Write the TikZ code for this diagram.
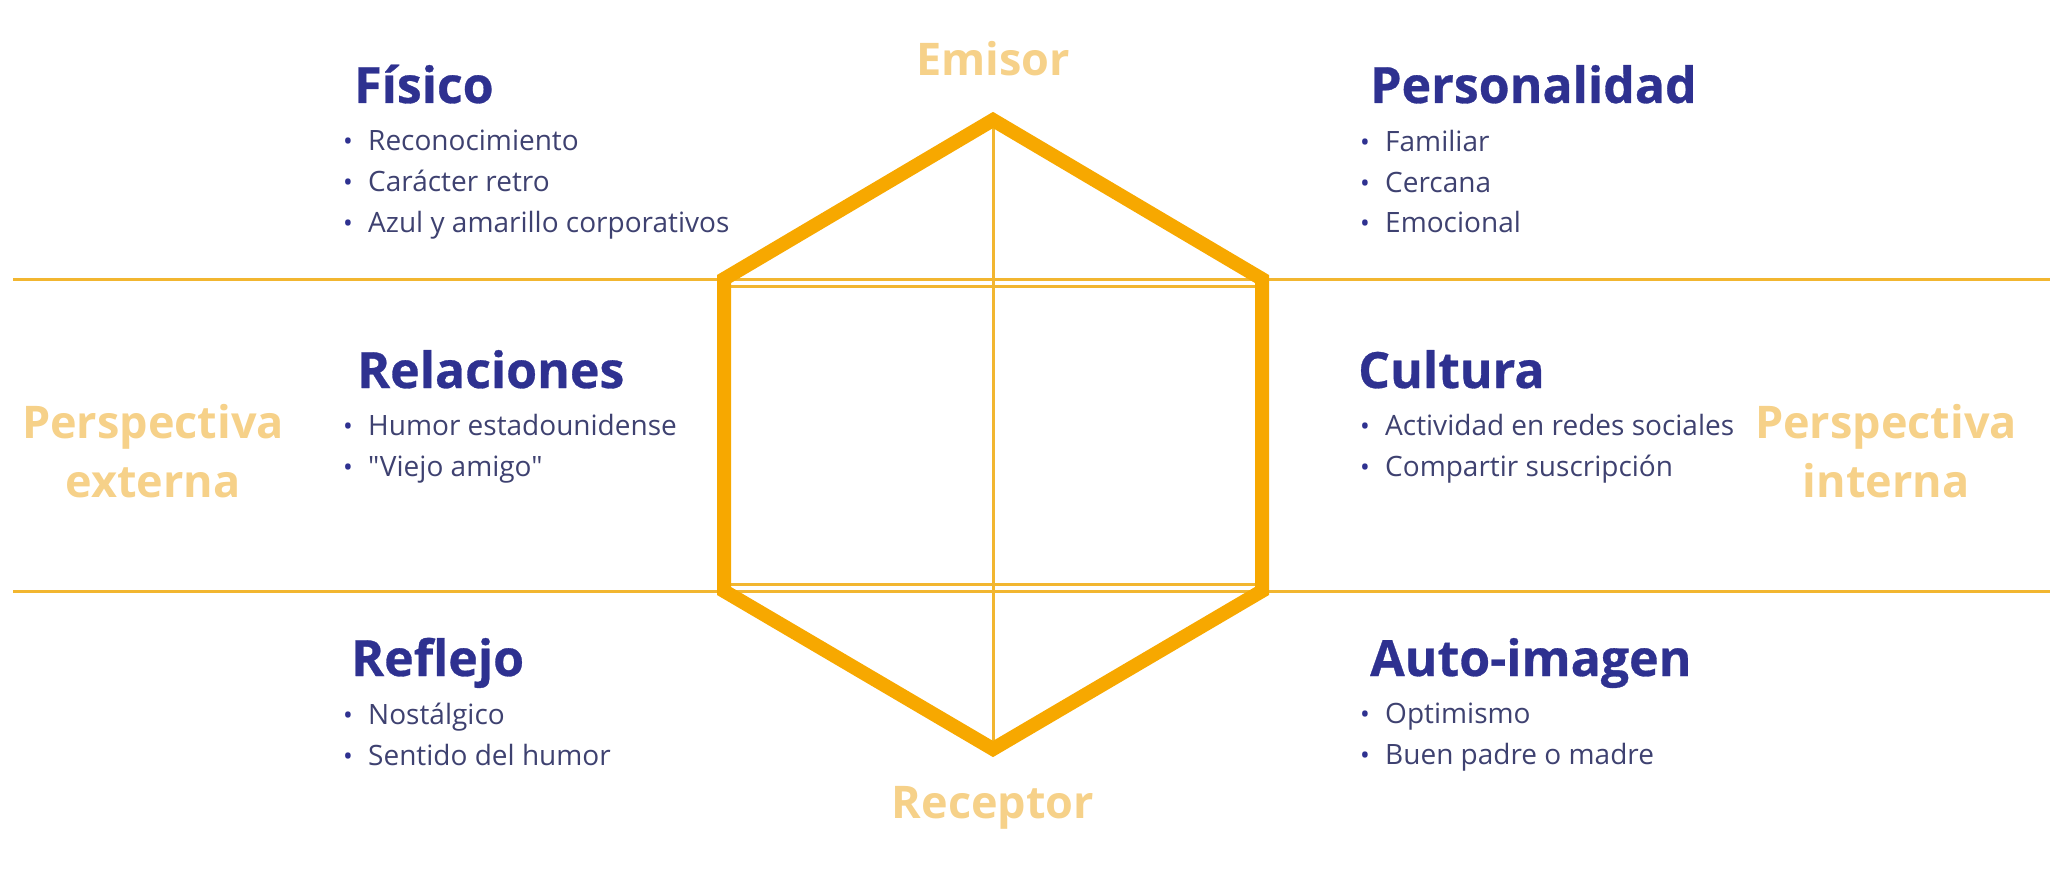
\documentclass[tikz,border=0pt]{standalone}
\usepackage{fontspec}
\setmainfont{Open Sans}
\definecolor{navy}{HTML}{2E3190}
\definecolor{itemgray}{HTML}{3E4170}
\definecolor{amber}{HTML}{F7A800}
\definecolor{rule}{HTML}{F2B630}
\definecolor{pale}{HTML}{F6D189}
\newcommand{\itm}[1]{\makebox[25pt][l]{\textcolor{navy}{\fontsize{26}{26}\selectfont •}}#1}
\newcommand{\straightq}[1]{{\addfontfeature{Ligatures=TeXOff}"#1"}}
\begin{document}
\begin{tikzpicture}[x=1pt,y=-1pt,
  title/.style={anchor=base west,inner sep=0pt,text=navy,font=\fontsize{50}{54}\selectfont\bfseries\addfontfeature{FakeBold=0.6}},
  items/.style={anchor=north west,inner sep=0pt,text=itemgray,align=left,font=\fontsize{28}{40.7}\selectfont},
  side/.style={inner sep=0pt,text=pale,align=center,font=\fontsize{45}{59}\selectfont\bfseries},
  hexline/.style={draw=amber,line width=14pt,line join=miter},
  thin/.style={draw=rule,line width=3pt}]
\useasboundingbox (0,0) rectangle (2054,869);

% guide lines across the page
\coordinate (l1) at (13,279);  \coordinate (r1) at (2050,279);
\coordinate (l2) at (13,591);  \coordinate (r2) at (2050,591);
\draw[thin] (l1) -- (r1);
\draw[thin] (l2) -- (r2);

% hexagon corners
\coordinate (T)  at (993,120);
\coordinate (UL) at (724,279);
\coordinate (UR) at (1262,279);
\coordinate (LL) at (724,591);
\coordinate (LR) at (1262,591);
\coordinate (B)  at (993,749);

% inner structure
\draw[thin] ([yshift=-7pt]UL) -- ([yshift=-7pt]UR);
\draw[thin] ([yshift=7pt]LL) -- ([yshift=7pt]LR);
\draw[thin] (T) -- (B);

% hexagon outline
\draw[hexline] (T) -- (UR) -- (LR) -- (B) -- (LL) -- (UL) -- cycle;

% axis labels
\node[side] (emisor) at (993,59) {Emisor};
\node[side] (receptor) at (993,808) {Receptor};
\node[side] (pext) at (153,451) {Perspectiva\\externa};
\node[side] (pint) at (1886,451) {Perspectiva\\interna};

% left column
\node[title] (fisico) at (354,103) {Físico};
\node[items] (fisicoI) at (343,130) {\itm{Reconocimiento}\\\itm{Carácter retro}\\\itm{Azul y amarillo corporativos}};
\node[title] (relac) at (357,388) {Relaciones};
\node[items] (relacI) at (343,414) {\itm{Humor estadounidense}\\\itm{\straightq{Viejo amigo}}};
\node[title] (reflejo) at (351,676) {Reflejo};
\node[items] (reflejoI) at (343,703) {\itm{Nostálgico}\\\itm{Sentido del humor}};

% right column
\node[title] (perso) at (1370,103) {Personalidad};
\node[items] (persoI) at (1360,130) {\itm{Familiar}\\\itm{Cercana}\\\itm{Emocional}};
\node[title] (cultura) at (1358,388) {Cultura};
\node[items] (culturaI) at (1360,414) {\itm{Actividad en redes sociales}\\\itm{Compartir suscripción}};
\node[title] (auto) at (1370,676) {Auto-imagen};
\node[items] (autoI) at (1360,703) {\itm{Optimismo}\\\itm{Buen padre o madre}};
\end{tikzpicture}
\end{document}
